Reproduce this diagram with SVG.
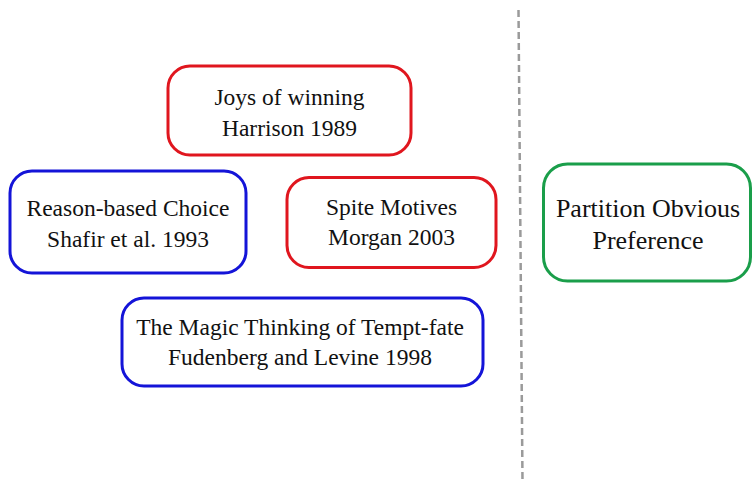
<svg xmlns="http://www.w3.org/2000/svg" width="752" height="481" viewBox="0 0 752 481">
<style>
.box{fill:#fff;stroke-width:3}
.red{stroke:#e0161e}
.blue{stroke:#1414d8}
.green{stroke:#1a9e4a}
text{font-family:"Liberation Serif","Times New Roman",serif;font-size:23.5px;fill:#111;text-anchor:middle}
.big{font-size:26px}
</style>
<rect width="752" height="481" fill="#fff"/>
<g id="connectors">
<line x1="518.5" y1="10" x2="522.5" y2="481" stroke="#9a9a9a" stroke-width="2.5" stroke-dasharray="7,4"/>
</g>
<g id="joys">
<rect class="box red" x="168" y="66" width="243" height="89" rx="22"/>
<text x="289.5" y="105">Joys of winning</text>
<text x="289.5" y="136">Harrison 1989</text>
</g>
<g id="reason">
<rect class="box blue" x="10" y="171" width="236" height="102" rx="22"/>
<text x="128" y="216">Reason-based Choice</text>
<text x="128" y="247">Shafir et al. 1993</text>
</g>
<g id="spite">
<rect class="box red" x="287" y="177.5" width="209" height="90" rx="22"/>
<text x="391.5" y="215">Spite Motives</text>
<text x="391.5" y="245">Morgan 2003</text>
</g>
<g id="magic">
<rect class="box blue" x="122" y="298" width="361" height="88" rx="22"/>
<text x="300" y="335">The Magic Thinking of Tempt-fate</text>
<text x="300" y="365">Fudenberg and Levine 1998</text>
</g>
<g id="partition">
<rect class="box green" x="543.5" y="164" width="207" height="117" rx="24"/>
<text class="big" x="648" y="217">Partition Obvious</text>
<text class="big" x="648" y="249">Preference</text>
</g>
</svg>
